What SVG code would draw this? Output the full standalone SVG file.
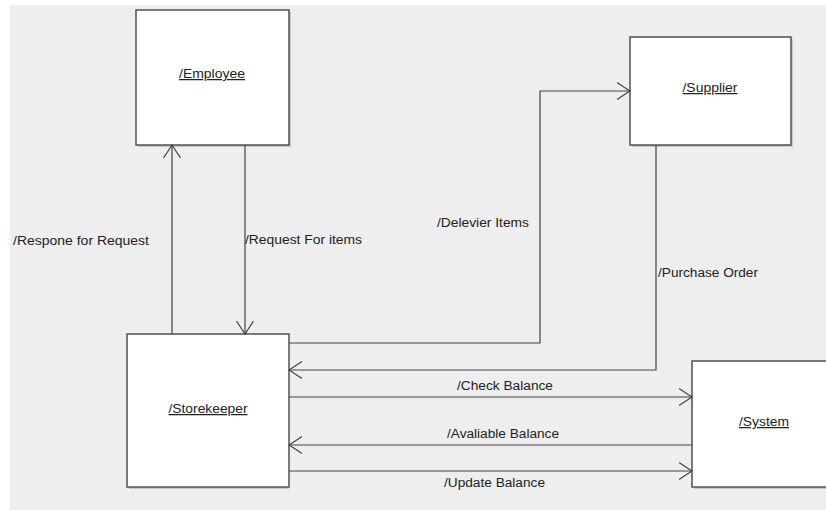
<svg xmlns="http://www.w3.org/2000/svg" width="826" height="510" viewBox="0 0 826 510">
  <style>
    .node rect.box { fill: #ffffff; stroke: #505050; stroke-width: 1.5; }
    .node rect.shadow { fill: #c8c8c8; }
    .node text { font-family: "Liberation Sans", Arial, sans-serif; font-size: 12.5px; fill: #222; text-anchor: middle; text-decoration: underline; }
    .edge { fill: none; stroke: #444; stroke-width: 1.2; }
    .lbl { font-family: "Liberation Sans", Arial, sans-serif; font-size: 12.5px; fill: #222; }
  </style>
  <defs>
    <marker id="open" viewBox="0 0 14 18" refX="13" refY="9" markerWidth="14" markerHeight="18" markerUnits="userSpaceOnUse" orient="auto">
      <path d="M0,0.5 L13,9 L0,17.5" fill="none" stroke="#444" stroke-width="1.2"/>
    </marker>
  </defs>

  <!-- canvas -->
  <rect x="0" y="0" width="826" height="510" fill="#ffffff"/>
  <rect x="10" y="5" width="816" height="505" fill="#eeeeee"/>

  <g id="employee" class="node">
    <rect class="shadow" x="138" y="12" width="153" height="135"/>
    <rect class="box" x="136" y="10" width="153" height="135"/>
    <text x="212" y="78" textLength="66" lengthAdjust="spacingAndGlyphs">/Employee</text>
  </g>

  <g id="supplier" class="node">
    <rect class="shadow" x="632" y="39" width="161" height="108"/>
    <rect class="box" x="630" y="37" width="161" height="108"/>
    <text x="710" y="92" textLength="55" lengthAdjust="spacingAndGlyphs">/Supplier</text>
  </g>

  <g id="storekeeper" class="node">
    <rect class="shadow" x="129" y="336" width="160" height="153"/>
    <rect class="box" x="127" y="334" width="162" height="153"/>
    <text x="208" y="413" textLength="79" lengthAdjust="spacingAndGlyphs">/Storekeeper</text>
  </g>

  <g id="system" class="node">
    <rect class="shadow" x="694" y="363" width="144" height="126"/>
    <rect class="box" x="692" y="361" width="144" height="126"/>
    <text x="764" y="426" textLength="50" lengthAdjust="spacingAndGlyphs">/System</text>
  </g>

  <g id="connectors">
    <!-- Storekeeper -> Employee -->
    <path class="edge" d="M172,334 L172,145" marker-end="url(#open)"/>
    <!-- Employee -> Storekeeper -->
    <path class="edge" d="M245,145 L245,334" marker-end="url(#open)"/>
    <!-- Storekeeper -> Supplier -->
    <path class="edge" d="M289,343 L540,343 L540,91 L630,91" marker-end="url(#open)"/>
    <!-- Supplier -> Storekeeper -->
    <path class="edge" d="M656,145 L656,370 L289,370" marker-end="url(#open)"/>
    <!-- Storekeeper -> System -->
    <path class="edge" d="M289,397 L692,397" marker-end="url(#open)"/>
    <!-- System -> Storekeeper -->
    <path class="edge" d="M692,445 L289,445" marker-end="url(#open)"/>
    <!-- Storekeeper -> System -->
    <path class="edge" d="M289,471 L692,471" marker-end="url(#open)"/>

    <text class="lbl" x="13" y="245" textLength="136" lengthAdjust="spacingAndGlyphs">/Respone for Request</text>
    <text class="lbl" x="245" y="244" textLength="117" lengthAdjust="spacingAndGlyphs">/Request For items</text>
    <text class="lbl" x="437" y="227" textLength="92" lengthAdjust="spacingAndGlyphs">/Delevier Items</text>
    <text class="lbl" x="658" y="277" textLength="100" lengthAdjust="spacingAndGlyphs">/Purchase Order</text>
    <text class="lbl" x="457" y="390" textLength="96" lengthAdjust="spacingAndGlyphs">/Check Balance</text>
    <text class="lbl" x="447" y="438" textLength="112" lengthAdjust="spacingAndGlyphs">/Avaliable Balance</text>
    <text class="lbl" x="444" y="487" textLength="101" lengthAdjust="spacingAndGlyphs">/Update Balance</text>
  </g>
</svg>
